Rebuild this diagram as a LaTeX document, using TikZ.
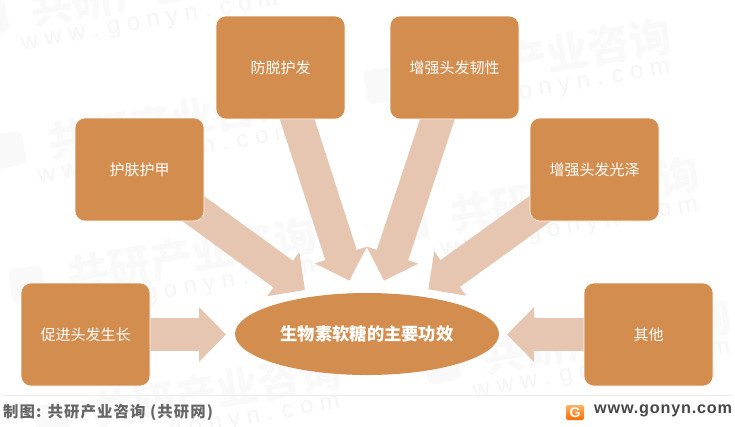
\documentclass[tikz,border=0pt]{standalone}
\usepackage{fontspec}
\setmainfont{Noto Sans CJK SC}
\newfontfamily\webfont{Liberation Sans}
\newfontfamily\webwide[LetterSpace=5]{Liberation Sans}
\newfontfamily\sourcefont[LetterSpace=7]{Noto Sans CJK SC}
\usetikzlibrary{calc, positioning, arrows.meta, shapes.geometric}
\pgfdeclarelayer{bg}
\pgfsetlayers{bg,main}
\definecolor{boxfill}{HTML}{D38D4F}
\definecolor{arrowfill}{HTML}{E6C5B1}
\definecolor{markgray}{HTML}{F9F9F9}
\definecolor{webgray}{HTML}{F5F5F5}
\tikzset{
	itembox/.style={draw=white, line width=0.6pt, fill=boxfill, rounded corners=10pt, minimum width=129pt, minimum height=103pt, inner sep=0pt, text=white, font=\fontsize{15}{15}\selectfont},
	bigarrow/.style={draw=arrowfill, line width=33pt, -{Triangle[length=27pt, width=53pt, fill=arrowfill]}},
	mark text/.style={text=markgray, font=\bfseries\fontsize{42}{42}\selectfont, transform shape, inner sep=0pt},
	mark logo/.style={fill=markgray, rounded corners=6pt, minimum size=34pt, transform shape, inner sep=0pt},
	mark web/.style={text=webgray, font=\webfont\fontsize{24}{24}\selectfont, transform shape, inner sep=0pt}
}
\begin{document}
\begin{tikzpicture}[x=1pt, y=-1pt]
	\useasboundingbox (0,0) rectangle (735,426);

	% nodes - boxes %
	\node[itembox] (hair) at (280.5,67.5) {防脱护发};
	\node[itembox] (tough) at (454.5,67.5) {增强头发韧性};
	\node[itembox] (skin) at (139.5,169.5) {护肤护甲};
	\node[itembox] (shine) at (594.5,169.5) {增强头发光泽};
	\node[itembox] (grow) at (85.5,334.5) {促进头发生长};
	\node[itembox] (other) at (648.5,334.5) {其他};
	\node[ellipse, fill=boxfill, minimum width=264pt, minimum height=82pt, inner sep=0pt, text=white, font=\bfseries\fontsize{17.3}{17.3}\selectfont] (main) at (367,334) {生物素软糖的主要功效};

	% arrow ends %
	\coordinate (tipskin) at (305,290);
	\coordinate (tiphair) at (349.3,280.7);
	\coordinate (tiptough) at (384,280.7);
	\coordinate (tipshine) at (428.3,289.3);
	\coordinate (tipgrow) at (226,334.5);
	\coordinate (tipother) at (507,334.5);

	% watermark and edges %
	\begin{pgfonlayer}{bg}
		\clip (0,0) rectangle (735,426);
		\foreach \mx/\my in {133/-8, 150/125, 170/259, 195/395, 525/60, 553/198, 585/340} {
			\begin{scope}[shift={(\mx,\my)}, rotate=10]
				\node[mark logo] (logo\mx) at (-145,0) {};
				\node[mark text] (mark\mx) at (22,0) {共研产业咨询};
				\node[mark web] (web\mx) at (11,34) {w w w . g o n y n . c o m};
			\end{scope}
		}
		\draw[bigarrow] (skin.center) -- (tipskin);
		\draw[bigarrow] (hair.center) -- (tiphair);
		\draw[bigarrow] (tough.center) -- (tiptough);
		\draw[bigarrow] (shine.center) -- (tipshine);
		\draw[bigarrow] (grow.center) -- (tipgrow);
		\draw[bigarrow] (other.center) -- (tipother);
	\end{pgfonlayer}

	% footer %
	\coordinate (ruleL) at (3,395.7);
	\coordinate (ruleR) at (732,395.7);
	\draw[black!7, line width=1.4pt] (ruleL) -- (ruleR);
	\node[anchor=west, inner sep=0pt, text=black!60, font=\sourcefont\bfseries\fontsize{15.4}{15.4}\selectfont] (source) at (3,412) {制图: 共研产业咨询 (共研网)};
	\node[top color=orange!60, bottom color=orange!85!red, rounded corners=2pt, minimum width=18pt, minimum height=15pt, inner sep=0pt, text=white, font=\webfont\bfseries\fontsize{14}{14}\selectfont] (logo) at (575,412.5) {G};
	\node[anchor=west, inner sep=0pt, text=black!72, font=\webwide\bfseries\fontsize{16.2}{16.2}\selectfont] (web) at (594,411) {www.gonyn.com};
\end{tikzpicture}
\end{document}
